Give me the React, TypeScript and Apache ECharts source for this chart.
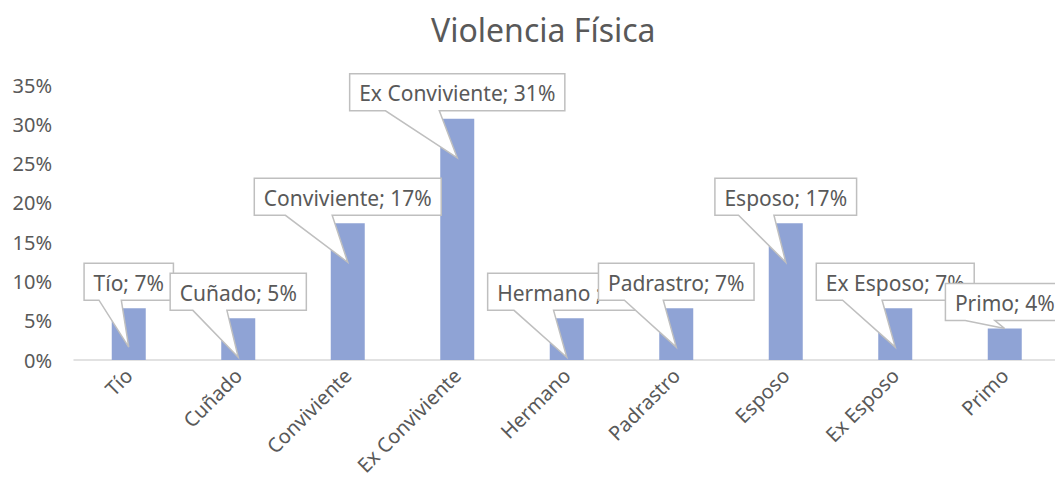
import React, { useEffect, useRef } from "react";
import * as echarts from "echarts";

const categories = ["Tío", "Cuñado", "Conviviente", "Ex Conviviente", "Hermano", "Padrastro", "Esposo", "Ex Esposo", "Primo"];
const values = [0.066, 0.053, 0.174, 0.307, 0.053, 0.066, 0.174, 0.066, 0.04];
const calloutNames = ["Tío", "Cuñado", "Conviviente", "Ex Conviviente", "Hermano ", "Padrastro", "Esposo", "Ex Esposo", "Primo"];
const yMin = 0;
const yMax = 0.35;
const yStep = 0.05;
const titleText = "Violencia Física";

const FONT = '"Noto Sans", "Open Sans", sans-serif';
const TEXT_COLOR = "#595959";
const LABEL_SIZE = 21;

function measure(text: string, size: number): number {
  const c = document.createElement("canvas");
  const ctx = c.getContext("2d");
  if (!ctx) return text.length * size * 0.55;
  ctx.font = `${size}px "Noto Sans"`;
  return ctx.measureText(text).width;
}

export default function App() {
  const ref = useRef<HTMLDivElement>(null);
  useEffect(() => {
    if (!ref.current) return;
    const chart = echarts.init(ref.current, undefined, { renderer: "svg" });
    const labels = values.map((v, i) => `${calloutNames[i]}; ${Math.round(v * 100)}%`);
    const widths = labels.map((t) => measure(t, LABEL_SIZE) + 19);

    chart.setOption({
      animation: false,
      backgroundColor: "#ffffff",
      title: {
        text: titleText,
        left: 426,
        top: 8,
        textStyle: { fontSize: 32, fontWeight: "normal", color: TEXT_COLOR, fontFamily: FONT },
      },
      grid: { left: 74, top: 85, width: 985.5, height: 275, outerBoundsMode: "none", containLabel: false },
      xAxis: {
        type: "category",
        data: categories,
        axisLine: { lineStyle: { color: "#d9d9d9", width: 1.5 } },
        axisTick: { show: false },
        axisLabel: { rotate: 45, margin: 12, color: TEXT_COLOR, fontSize: 20, fontFamily: FONT, interval: 0 },
      },
      yAxis: {
        type: "value",
        min: yMin,
        max: yMax,
        interval: yStep,
        axisLine: { show: false },
        axisTick: { show: false },
        splitLine: { show: false },
        axisLabel: {
          color: TEXT_COLOR,
          fontSize: 20,
          fontFamily: FONT,
          margin: 22,
          formatter: (v: number) => `${Math.round(v * 100)}%`,
        },
      },
      series: [
        {
          type: "bar",
          data: values,
          barWidth: 34,
          itemStyle: { color: "#8FA3D5" },
          z: 2,
        },
        {
          type: "custom",
          z: 5,
          clip: false,
          data: values.map((v, i) => [i, v]),
          encode: { x: 0, y: 1 },
          renderItem: (params: any, api: any) => {
            const i = params.dataIndex;
            const v = api.value(1);
            const top = api.coord([i, v]);
            const base = api.coord([i, 0]);
            const w = widths[i];
            const h = 37;
            const cx = top[0];
            const l = cx - w / 2;
            const r = cx + w / 2;
            const b = top[1] - 8;
            const t = b - h;
            let tipY = top[1] + 39;
            if (tipY > base[1] - 1) tipY = top[1];
            const x1 = l + w / 6;
            const x2 = l + (5 * w) / 12;
            return {
              type: "group",
              children: [
                {
                  type: "polygon",
                  shape: {
                    points: [
                      [l, t],
                      [r, t],
                      [r, b],
                      [x2, b],
                      [cx, tipY],
                      [x1, b],
                      [l, b],
                    ],
                  },
                  style: { fill: "#ffffff", stroke: "#bfbfbf", lineWidth: 1.5 },
                },
                {
                  type: "text",
                  style: {
                    text: labels[i],
                    x: cx,
                    y: (t + b) / 2 + 1,
                    align: "center",
                    verticalAlign: "middle",
                    fill: TEXT_COLOR,
                    fontSize: LABEL_SIZE,
                    fontFamily: FONT,
                  },
                },
              ],
            };
          },
        },
      ],
    });
    return () => chart.dispose();
  }, []);
  return <div ref={ref} style={{ position: "absolute", left: 0, top: 0, width: 1055, height: 491 }} />;
}
